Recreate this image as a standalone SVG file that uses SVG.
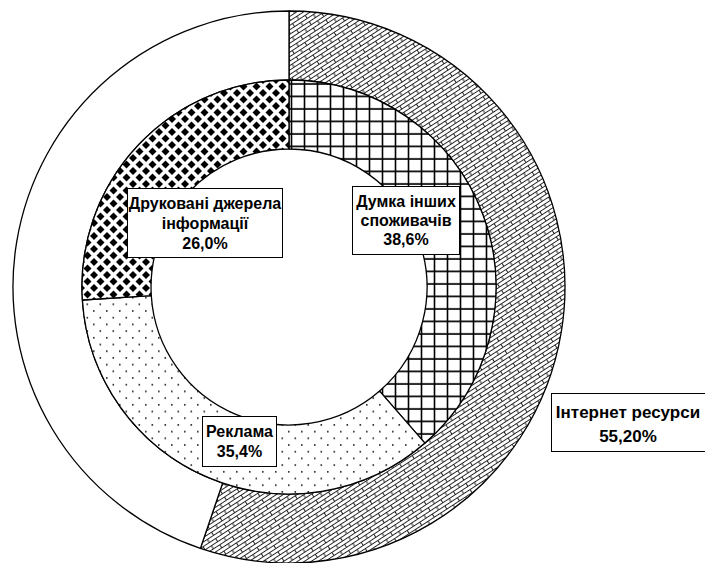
<svg xmlns="http://www.w3.org/2000/svg" width="705" height="563" viewBox="0 0 705 563">
<style>
.sl{stroke:#000;stroke-width:1.3;stroke-linejoin:round}
.box{fill:#fff;stroke:#000;stroke-width:1}
.lb{font-family:"Liberation Sans",Arial,sans-serif;font-weight:bold;font-size:16px;fill:#000;text-anchor:middle}
</style>
<defs>
<pattern id="brick" width="15" height="7.5" patternUnits="userSpaceOnUse" patternTransform="rotate(-33 289 287)">
<rect width="15" height="7.5" fill="#fff"/>
<path d="M0 0.5H15M0 4.25H15M0.5 0.5V4.25M8 4.25V8" stroke="#222" stroke-width="1" fill="none"/>
</pattern>
<pattern id="grid" width="13" height="12.5" patternUnits="userSpaceOnUse" x="289" y="80">
<rect width="13" height="12.5" fill="#fff"/>
<path d="M2.5 0V12.5M0 4H13" stroke="#000" stroke-width="1.6" fill="none"/>
</pattern>
<pattern id="diam" width="13" height="13" patternUnits="userSpaceOnUse" x="289" y="80">
<rect width="13" height="13" fill="#fff"/>
<path d="M0 -4L4 0L0 4L-4 0ZM13 -4L17 0L13 4L9 0ZM0 9L4 13L0 17L-4 13ZM13 9L17 13L13 17L9 13ZM6.5 2.5L10.5 6.5L6.5 10.5L2.5 6.5Z" fill="#000"/>
</pattern>
<pattern id="dots" width="13" height="13.4" patternUnits="userSpaceOnUse">
<rect width="13" height="13.4" fill="#fff"/>
<rect x="2" y="2" width="1.6" height="1.6" fill="#222"/>
<rect x="8.5" y="8.7" width="1.6" height="1.6" fill="#222"/>
</pattern>
</defs>
<rect width="705" height="563" fill="#fff"/>
<g id="outer-internet">
<path class="sl" fill="url(#brick)" d="M289 11A276 276 0 1 1 200.4 548.4L222.6 483.1A207 207 0 1 0 289 80Z"/>
</g>
<g id="outer-other">
<path class="sl" fill="#fff" d="M200.4 548.4A276 276 0 0 1 289 11L289 80A207 207 0 0 0 222.6 483.1Z"/>
</g>
<g id="inner-dumka">
<path class="sl" fill="url(#grid)" d="M289 80A207 207 0 0 1 424.9 443.1L379.6 391.1A138 138 0 0 0 289 149Z"/>
</g>
<g id="inner-reklama">
<path class="sl" fill="url(#dots)" d="M424.9 443.1A207 207 0 0 1 82.4 300L151.3 295.7A138 138 0 0 0 379.6 391.1Z"/>
</g>
<g id="inner-drukovani">
<path class="sl" fill="url(#diam)" d="M82.4 300A207 207 0 0 1 289 80L289 149A138 138 0 0 0 151.3 295.7Z"/>
</g>
<g id="connectors"></g>
<g id="label-drukovani">
<rect class="box" x="127.5" y="188.5" width="155" height="69"/>
<text class="lb" x="205" y="209">Друковані джерела</text>
<text class="lb" x="205" y="229">інформації</text>
<text class="lb" x="205" y="249">26,0%</text>
</g>
<g id="label-dumka">
<rect class="box" x="352.5" y="186.5" width="107" height="68"/>
<text class="lb" x="406" y="207">Думка інших</text>
<text class="lb" x="406" y="226">споживачів</text>
<text class="lb" x="406" y="245">38,6%</text>
</g>
<g id="label-reklama">
<rect class="box" x="202.5" y="416.5" width="74" height="50"/>
<text class="lb" x="239.5" y="437">Реклама</text>
<text class="lb" x="239.5" y="457">35,4%</text>
</g>
<g id="label-internet">
<rect class="box" x="551.5" y="393.5" width="160" height="58"/>
<text class="lb" x="628" y="418" style="font-size:17px">Інтернет ресурси</text>
<text class="lb" x="628" y="442" style="font-size:17px">55,20%</text>
</g>
</svg>
